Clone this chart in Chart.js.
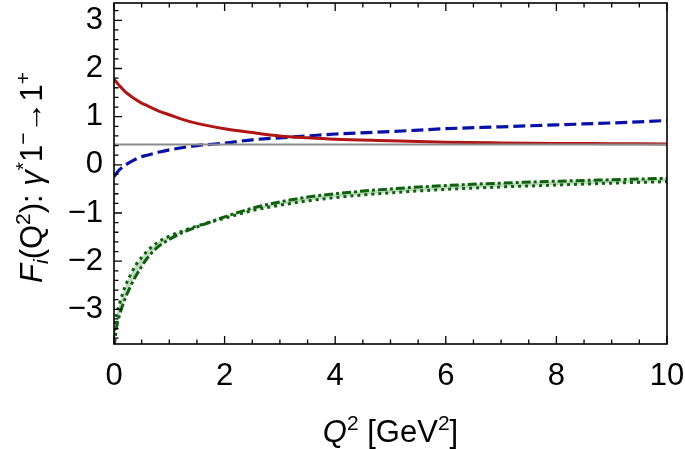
<!DOCTYPE html>
<html>
<head>
<meta charset="utf-8">
<script src="https://cdn.jsdelivr.net/npm/chart.js@4/dist/chart.umd.min.js"></script>
<style>
  html, body { margin: 0; padding: 0; background: #ffffff; }
  #wrap { width: 685px; height: 449px; }
</style>
</head>
<body>
<div id="wrap"><canvas id="c" width="685" height="449"></canvas></div>
<script>
// Q^2 sample points [GeV^2]
const xValues = [0, 0.05, 0.1, 0.2, 0.3, 0.4, 0.5, 0.6, 0.8, 1.0, 1.25, 1.5, 2, 2.5, 3, 3.5, 4, 5, 6, 7, 8, 9, 10];
// red solid curve
const redValues = [1.78, 1.71, 1.64, 1.52, 1.43, 1.35, 1.28, 1.23, 1.12, 1.04, 0.94, 0.86, 0.75, 0.67, 0.60, 0.56, 0.53, 0.50, 0.47, 0.455, 0.445, 0.44, 0.435];
// blue dashed curve
const blueValues = [-0.24, -0.17, -0.10, -0.01, 0.06, 0.12, 0.17, 0.20, 0.26, 0.31, 0.36, 0.40, 0.45, 0.52, 0.56, 0.60, 0.64, 0.69, 0.75, 0.79, 0.83, 0.87, 0.92];
// green dash-dotted curve
const greenDashDot = [-3.8, -3.35, -3.12, -2.78, -2.52, -2.30, -2.11, -1.94, -1.70, -1.55, -1.40, -1.29, -1.08, -0.90, -0.77, -0.67, -0.60, -0.50, -0.43, -0.38, -0.34, -0.31, -0.28];
// green dotted curve
const greenDotted = [-3.45, -3.09, -2.88, -2.53, -2.28, -2.07, -1.92, -1.79, -1.60, -1.48, -1.37, -1.27, -1.11, -0.95, -0.84, -0.75, -0.68, -0.58, -0.51, -0.46, -0.42, -0.38, -0.35];
// gray horizontal reference level
const grayX = [0, 10];
const grayValues = [0.42, 0.42];
// axis tick labels
const xTickLabels = [0, 2, 4, 6, 8, 10];
const yTickLabels = [-3, -2, -1, 0, 1, 2, 3];
// axis titles: [text, style] where style: n normal, i italic, sup superscript, subi italic subscript
const xTitle = [['Q', 'i'], ['2', 'sup'], [' [GeV', 'n'], ['2', 'sup'], [']', 'n']];
const yTitle = [['F', 'i'], ['i', 'subi'], ['(Q', 'n'], ['2', 'sup'], ['): ', 'n'], ['γ', 'i'], ['*', 'sup'], ['1', 'n'], ['−', 'sup'], ['→1', 'n'], ['+', 'sup']];

const toPts = (xs, ys) => xs.map((x, i) => ({ x: x, y: ys[i] }));
const FONT = "'Liberation Sans', Arial, Helvetica, sans-serif";
const TITLE_SIZE = 31;
const SMALL_SIZE = 21;

function segFont(style) {
  if (style === 'i') return 'italic ' + TITLE_SIZE + 'px ' + FONT;
  if (style === 'sup') return SMALL_SIZE + 'px ' + FONT;
  if (style === 'subi') return 'italic ' + SMALL_SIZE + 'px ' + FONT;
  return TITLE_SIZE + 'px ' + FONT;
}
function segShift(style) {
  if (style === 'sup') return -12;
  if (style === 'subi') return 6;
  return 0;
}
function drawRich(ctx, segs, cx, baseline) {
  let total = 0;
  const widths = segs.map(([t, s]) => { ctx.font = segFont(s); const w = ctx.measureText(t).width; total += w; return w; });
  let x = cx - total / 2;
  ctx.textBaseline = 'alphabetic';
  ctx.textAlign = 'left';
  segs.forEach(([t, s], i) => {
    ctx.font = segFont(s);
    ctx.fillText(t, x, baseline + segShift(s));
    x += widths[i];
  });
}
function zeroPad(s) { s.paddingLeft = 0; s.paddingRight = 0; s.paddingTop = 0; s.paddingBottom = 0; }

const frameTicks = {
  id: 'frameTicks',
  afterDatasetsDraw(chart) {
    const { ctx, chartArea: a, scales } = chart;
    const xs = scales.x, ys = scales.y;
    ctx.save();
    ctx.strokeStyle = '#000';
    ctx.lineWidth = 1.3;
    ctx.beginPath();
    for (let k = -18; k <= 16; k++) {
      const v = k * 0.2;
      const py = ys.getPixelForValue(v);
      if (py < a.top || py > a.bottom) continue;
      const major = (k % 5 === 0);
      const len = major ? 8 : 4.5;
      ctx.moveTo(a.left, py); ctx.lineTo(a.left + len, py);
    }
    for (let k = 0; k <= 20; k++) {
      const v = k * 0.5;
      const px = xs.getPixelForValue(v);
      const major = (k % 4 === 0);
      const len = major ? 8 : 4.5;
      ctx.moveTo(px, a.bottom); ctx.lineTo(px, a.bottom - len);
      ctx.moveTo(px, a.top); ctx.lineTo(px, a.top + len);
    }
    ctx.stroke();
    ctx.lineWidth = 1.6;
    ctx.strokeRect(a.left, a.top, a.right - a.left, a.bottom - a.top);
    ctx.restore();
  },
  afterDraw(chart) {
    const { ctx, chartArea: a } = chart;
    ctx.save();
    ctx.fillStyle = '#000';
    drawRich(ctx, xTitle, (a.left + a.right) / 2, chart.height - 7);
    ctx.translate(42, (a.top + a.bottom) / 2 + 4);
    ctx.rotate(-Math.PI / 2);
    drawRich(ctx, yTitle, 0, 0);
    ctx.restore();
  }
};

new Chart(document.getElementById('c'), {
  type: 'line',
  data: {
    datasets: [
      {
        label: 'gray',
        data: toPts(grayX, grayValues),
        borderColor: '#8c8c8c',
        borderWidth: 2,
        pointRadius: 0,
        fill: false
      },
      {
        label: 'green dash-dot',
        data: toPts(xValues, greenDashDot),
        borderColor: '#0e600e',
        borderWidth: 3,
        borderDash: [9, 3, 3, 3],
        pointRadius: 0,
        cubicInterpolationMode: 'monotone',
        fill: false
      },
      {
        label: 'green dotted',
        data: toPts(xValues, greenDotted),
        borderColor: '#0e600e',
        borderWidth: 3,
        borderDash: [3, 4],
        pointRadius: 0,
        cubicInterpolationMode: 'monotone',
        backgroundColor: 'rgba(110,165,110,0.42)',
        fill: '-1'
      },
      {
        label: 'red',
        data: toPts(xValues, redValues),
        borderColor: '#b01515',
        borderWidth: 3,
        pointRadius: 0,
        cubicInterpolationMode: 'monotone',
        fill: false
      },
      {
        label: 'blue',
        data: toPts(xValues, blueValues),
        borderColor: '#0a12a6',
        borderWidth: 3.2,
        borderDash: [12, 5],
        pointRadius: 0,
        cubicInterpolationMode: 'monotone',
        fill: false
      }
    ]
  },
  options: {
    responsive: false,
    animation: false,
    devicePixelRatio: 1,
    layout: { autoPadding: false, padding: { top: 3, right: 18, left: 0, bottom: 0 } },
    plugins: { legend: { display: false }, tooltip: { enabled: false } },
    scales: {
      x: {
        type: 'linear',
        min: 0, max: 10,
        grid: { display: false, drawTicks: false },
        border: { display: false },
        afterFit(s) { s.height = 105; zeroPad(s); },
        afterBuildTicks(s) { s.ticks = xTickLabels.map(v => ({ value: v })); },
        ticks: {
          padding: 14,
          color: '#000',
          font: { family: FONT, size: 31 },
          maxRotation: 0,
          callback: v => String(v)
        },
        title: { display: false }
      },
      y: {
        type: 'linear',
        min: -3.72, max: 3.36,
        grid: { display: false, drawTicks: false },
        border: { display: false },
        afterFit(s) { s.width = 114; zeroPad(s); },
        afterBuildTicks(s) { s.ticks = yTickLabels.map(v => ({ value: v })); },
        ticks: {
          padding: 11,
          color: '#000',
          font: { family: FONT, size: 31 },
          callback: v => (v < 0 ? '\u2212' + Math.abs(v) : String(v))
        },
        title: { display: false }
      }
    }
  },
  plugins: [frameTicks]
});
</script>
</body>
</html>
